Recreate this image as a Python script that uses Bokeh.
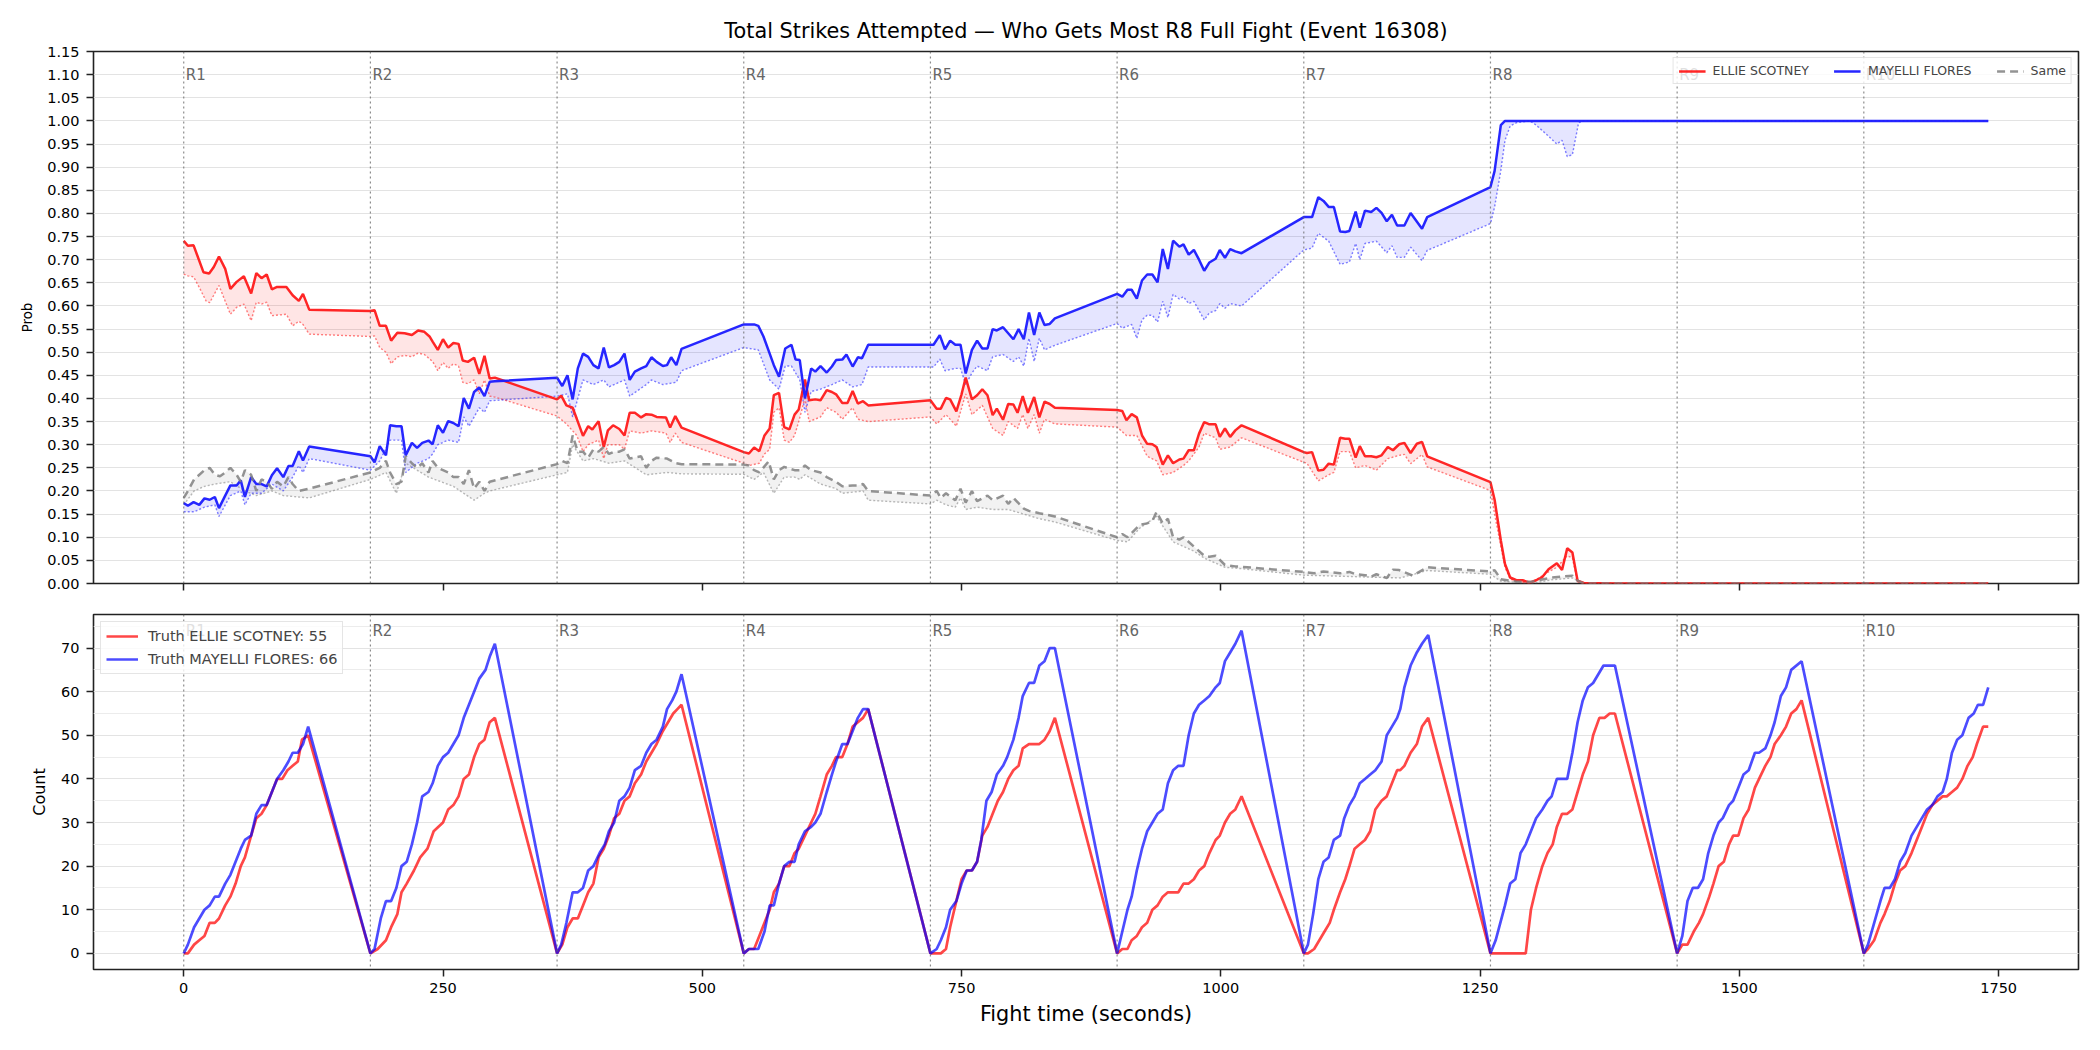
from bokeh.plotting import figure
from bokeh.layouts import column
from bokeh.models import (Range1d, FixedTicker, SingleIntervalTicker, NumeralTickFormatter,
                          Legend, LegendItem, Span, Title)
from bokeh.core.properties import value
from bokeh.embed import file_html
from bokeh.resources import INLINE

FONT = "DejaVu Sans"

TITLE = "Total Strikes Attempted \u2014 Who Gets Most R8 Full Fight (Event 16308)"
FIGHTER_A = "ELLIE SCOTNEY"
FIGHTER_B = "MAYELLI FLORES"
TRUTH_A = 55
TRUTH_B = 66

round_starts = [0, 180, 360, 540, 720, 900, 1080, 1260, 1440, 1620]
round_labels = ["R1", "R2", "R3", "R4", "R5", "R6", "R7", "R8", "R9", "R10"]
x_ticks = [0, 250, 500, 750, 1000, 1250, 1500, 1750]
prob_ticks = [0.00, 0.05, 0.10, 0.15, 0.20, 0.25, 0.30, 0.35, 0.40, 0.45, 0.50, 0.55,
              0.60, 0.65, 0.70, 0.75, 0.80, 0.85, 0.90, 0.95, 1.00, 1.05, 1.10, 1.15]

# ---------------- probability: ELLIE SCOTNEY ----------------
red_t = [0, 4, 9.5, 19, 24.5, 29, 34, 40, 45, 51, 58, 65, 70, 75, 80, 85, 90, 99, 105, 111, 115, 121,
         180, 184, 189, 195, 200, 206, 213, 220, 226, 232, 237, 240, 245, 250, 255, 260, 265, 269, 274, 280, 285, 290, 295, 300,
         360, 364, 369, 375, 379, 385, 390, 394, 400, 405, 409, 414, 420, 425, 430, 435, 441, 446, 451, 456, 465, 469, 474, 480,
         540, 545, 550, 555, 560, 565, 569, 574, 579, 584, 589, 593, 599, 603, 609, 614, 620, 625, 629, 635, 640, 645, 650, 655, 660,
         720, 726, 730, 735, 739, 745, 750, 754, 760, 765, 770, 775, 780, 784, 790, 795, 800, 804, 809, 814, 820, 825, 830, 835, 840,
         900, 905, 909, 914, 919, 924, 929, 934, 938, 944, 949, 954, 960, 964, 969, 974, 979, 984, 989, 995, 999, 1004, 1009, 1014, 1020,
         1080, 1083, 1088, 1094, 1099, 1104, 1109, 1115, 1120, 1124, 1130, 1134, 1139, 1145, 1150, 1155, 1161, 1166, 1172, 1177, 1183, 1189, 1194, 1199,
         1260, 1264, 1270, 1274, 1279, 1285, 1291, 1298, 1304, 1310, 1316, 1324, 1329, 1334, 1339, 1344, 1350, 1380,
         1440, 1560, 1620, 1740]
red_hi = [0.741, 0.730, 0.731, 0.673, 0.670, 0.684, 0.707, 0.680, 0.637, 0.652, 0.664, 0.627, 0.671, 0.660, 0.668, 0.636, 0.641, 0.641, 0.623, 0.611, 0.626, 0.592,
          0.589, 0.591, 0.557, 0.557, 0.525, 0.542, 0.541, 0.537, 0.547, 0.544, 0.534, 0.523, 0.505, 0.528, 0.510, 0.520, 0.518, 0.482, 0.479, 0.488, 0.453, 0.492, 0.443, 0.445,
          0.398, 0.406, 0.385, 0.380, 0.356, 0.319, 0.340, 0.333, 0.351, 0.295, 0.331, 0.342, 0.334, 0.320, 0.369, 0.369, 0.359, 0.366, 0.365, 0.360, 0.359, 0.337, 0.362, 0.337,
          0.284, 0.281, 0.294, 0.286, 0.320, 0.335, 0.407, 0.412, 0.338, 0.333, 0.365, 0.376, 0.441, 0.396, 0.398, 0.396, 0.418, 0.414, 0.409, 0.390, 0.390, 0.416, 0.389, 0.394, 0.385,
          0.396, 0.378, 0.378, 0.401, 0.398, 0.372, 0.409, 0.445, 0.398, 0.407, 0.420, 0.407, 0.364, 0.378, 0.354, 0.388, 0.387, 0.369, 0.405, 0.369, 0.403, 0.359, 0.393, 0.388, 0.380,
          0.375, 0.373, 0.353, 0.366, 0.359, 0.320, 0.302, 0.301, 0.295, 0.257, 0.277, 0.260, 0.268, 0.270, 0.288, 0.288, 0.324, 0.349, 0.344, 0.344, 0.317, 0.335, 0.317, 0.331, 0.342,
          0.284, 0.282, 0.284, 0.244, 0.246, 0.259, 0.257, 0.315, 0.313, 0.313, 0.272, 0.297, 0.275, 0.275, 0.273, 0.277, 0.295, 0.288, 0.301, 0.304, 0.282, 0.302, 0.306, 0.275,
          0.219, 0.181, 0.093, 0.042, 0.013, 0.007, 0.007, 0.002, 0.007, 0.014, 0.031, 0.044, 0.029, 0.076, 0.067, 0.006, 0.001, 0.0,
          0.0, 0.0, 0.0, 0.0]
red_lo_t = [0, 4, 9.5, 15, 21.5, 25, 34, 45, 51, 58, 65, 70, 75, 80, 85, 99, 105, 111, 115, 121,
            180, 184, 189, 195, 200, 206, 213, 220, 226, 232, 240, 245, 250, 255, 260, 265, 269, 274, 280, 285, 290, 295, 300,
            360, 369, 379, 385, 390, 400, 405, 409, 420, 425, 430, 441, 451, 465, 469, 474, 480,
            540, 545, 555, 560, 565, 569, 574, 579, 584, 589, 593, 599, 603, 614, 620, 629, 635, 645, 650, 660,
            720, 726, 735, 745, 754, 760, 770, 780, 790, 795, 804, 809, 814, 820, 825, 830, 840,
            900, 909, 919, 929, 938, 944, 954, 964, 969, 979, 984, 995, 999, 1009, 1020,
            1080, 1083, 1094, 1104, 1109, 1115, 1124, 1130, 1139, 1150, 1161, 1172, 1177, 1183, 1194, 1199,
            1260, 1264, 1270, 1274, 1279, 1285, 1298, 1316, 1324, 1334, 1339, 1344, 1350, 1740]
red_lo = [0.669, 0.665, 0.663, 0.640, 0.611, 0.607, 0.644, 0.582, 0.597, 0.604, 0.568, 0.608, 0.604, 0.608, 0.579, 0.582, 0.557, 0.567, 0.560, 0.539,
          0.534, 0.535, 0.510, 0.500, 0.475, 0.490, 0.493, 0.490, 0.498, 0.495, 0.480, 0.460, 0.478, 0.465, 0.475, 0.470, 0.435, 0.432, 0.440, 0.410, 0.440, 0.405, 0.403,
          0.362, 0.345, 0.320, 0.285, 0.300, 0.310, 0.270, 0.300, 0.300, 0.290, 0.330, 0.325, 0.330, 0.325, 0.305, 0.325, 0.305,
          0.260, 0.255, 0.260, 0.280, 0.290, 0.370, 0.380, 0.310, 0.305, 0.320, 0.350, 0.400, 0.350, 0.360, 0.380, 0.370, 0.355, 0.380, 0.355, 0.350,
          0.360, 0.345, 0.365, 0.340, 0.410, 0.365, 0.385, 0.335, 0.320, 0.350, 0.335, 0.365, 0.335, 0.365, 0.325, 0.355, 0.345,
          0.338, 0.320, 0.320, 0.275, 0.265, 0.235, 0.240, 0.255, 0.265, 0.295, 0.325, 0.315, 0.290, 0.295, 0.315,
          0.262, 0.260, 0.222, 0.235, 0.240, 0.285, 0.285, 0.250, 0.255, 0.245, 0.270, 0.277, 0.279, 0.259, 0.279, 0.252,
          0.201, 0.150, 0.080, 0.035, 0.010, 0.004, 0.000, 0.025, 0.035, 0.060, 0.055, 0.004, 0.000, 0.000]

# ---------------- probability: MAYELLI FLORES ----------------
blue_t = [0, 4, 9.5, 15, 20, 25, 30, 34, 40, 45, 51, 55, 59, 65, 70, 75, 80, 85, 90, 96, 101, 105, 111, 115, 121,
          180, 184, 189, 195, 199, 205, 210, 214, 220, 225, 230, 236, 240, 245, 250, 255, 260, 265, 270, 275, 280, 285, 290, 295, 300,
          360, 365, 370, 375, 380, 385, 390, 395, 400, 405, 410, 415, 420, 425, 430, 435, 441, 446, 451, 456, 462, 466, 470, 475, 480,
          540, 550, 554, 559, 565, 569, 574, 580, 586, 590, 594, 599, 605, 609, 614, 620, 625, 629, 635, 639, 645, 650, 654, 660,
          720, 723, 729, 734, 739, 744, 749, 754, 760, 765, 770, 775, 780, 784, 790, 795, 800, 805, 810, 815, 820, 825, 830, 835, 840,
          900, 905, 910, 914, 919, 924, 929, 934, 939, 944, 949, 954, 960, 964, 969, 974, 979, 984, 989, 995, 999, 1004, 1009, 1014, 1020,
          1080, 1088, 1094, 1099, 1104, 1109, 1115, 1120, 1124, 1130, 1134, 1139, 1145, 1150, 1155, 1160, 1165, 1170, 1177, 1183, 1194, 1199,
          1260, 1264, 1270, 1274, 1380, 1440, 1560, 1620, 1740]
blue_hi = [0.174, 0.168, 0.176, 0.170, 0.184, 0.181, 0.187, 0.163, 0.190, 0.212, 0.212, 0.223, 0.187, 0.230, 0.215, 0.215, 0.210, 0.234, 0.249, 0.230, 0.254, 0.254, 0.286, 0.266, 0.296,
           0.275, 0.262, 0.297, 0.277, 0.342, 0.340, 0.340, 0.277, 0.304, 0.293, 0.304, 0.309, 0.301, 0.342, 0.326, 0.351, 0.347, 0.340, 0.401, 0.378, 0.414, 0.424, 0.405, 0.436, 0.437,
           0.445, 0.427, 0.450, 0.398, 0.465, 0.497, 0.490, 0.472, 0.465, 0.510, 0.467, 0.472, 0.479, 0.497, 0.440, 0.458, 0.465, 0.470, 0.489, 0.479, 0.470, 0.472, 0.489, 0.472, 0.507,
           0.560, 0.560, 0.557, 0.534, 0.497, 0.472, 0.447, 0.508, 0.516, 0.484, 0.483, 0.400, 0.465, 0.458, 0.470, 0.456, 0.469, 0.483, 0.484, 0.495, 0.469, 0.489, 0.487, 0.516,
           0.516, 0.516, 0.537, 0.506, 0.525, 0.516, 0.516, 0.454, 0.505, 0.525, 0.508, 0.508, 0.550, 0.547, 0.554, 0.541, 0.528, 0.550, 0.528, 0.586, 0.537, 0.586, 0.559, 0.561, 0.573,
           0.626, 0.620, 0.635, 0.635, 0.616, 0.655, 0.668, 0.668, 0.651, 0.723, 0.680, 0.741, 0.728, 0.733, 0.711, 0.721, 0.700, 0.676, 0.694, 0.702, 0.721, 0.704, 0.723, 0.718, 0.714,
           0.792, 0.792, 0.835, 0.827, 0.814, 0.814, 0.761, 0.760, 0.762, 0.804, 0.769, 0.806, 0.803, 0.812, 0.801, 0.783, 0.797, 0.774, 0.774, 0.801, 0.767, 0.792,
           0.857, 0.892, 0.991, 1.000, 1.000, 1.000, 1.000, 1.000, 1.000]
blue_lo_t = [0, 10, 20, 30, 34, 45, 55, 59, 65, 75, 85, 96, 105, 111, 115, 121,
             180, 189, 199, 210, 214, 225, 236, 240, 245, 255, 265, 270, 275, 285, 290, 295,
             360, 370, 375, 385, 395, 405, 410, 425, 430, 446, 451, 462, 475, 480,
             540, 554, 565, 574, 580, 586, 594, 599, 605, 614, 625, 635, 645, 654, 660,
             723, 729, 734, 744, 749, 754, 760, 765, 775, 780, 790, 800, 805, 810, 815, 820, 825, 830, 840,
             900, 905, 914, 919, 924, 929, 934, 939, 944, 949, 954, 960, 964, 969, 974, 979, 984, 989, 995, 999, 1004, 1009, 1020,
             1080, 1088, 1094, 1104, 1115, 1124, 1130, 1134, 1139, 1150, 1160, 1165, 1170, 1177, 1183, 1194, 1199,
             1260, 1264, 1270, 1274, 1279, 1285, 1298, 1304, 1315, 1324, 1329, 1334, 1339, 1345, 1350, 1740]
blue_lo = [0.155, 0.155, 0.165, 0.170, 0.145, 0.190, 0.200, 0.170, 0.195, 0.195, 0.215, 0.200, 0.230, 0.255, 0.240, 0.270,
           0.245, 0.265, 0.310, 0.310, 0.240, 0.260, 0.270, 0.280, 0.300, 0.310, 0.305, 0.360, 0.340, 0.380, 0.370, 0.395,
           0.405, 0.410, 0.360, 0.440, 0.430, 0.440, 0.425, 0.440, 0.405, 0.430, 0.440, 0.430, 0.435, 0.460,
           0.510, 0.505, 0.440, 0.420, 0.470, 0.470, 0.440, 0.370, 0.415, 0.420, 0.430, 0.440, 0.425, 0.430, 0.468,
           0.468, 0.485, 0.460, 0.465, 0.465, 0.430, 0.455, 0.470, 0.460, 0.490, 0.495, 0.480, 0.490, 0.470, 0.530, 0.480, 0.530, 0.505, 0.515,
           0.562, 0.552, 0.560, 0.530, 0.570, 0.580, 0.580, 0.565, 0.610, 0.575, 0.625, 0.615, 0.620, 0.605, 0.610, 0.590, 0.570, 0.585, 0.590, 0.605, 0.595, 0.605, 0.600,
           0.721, 0.725, 0.757, 0.740, 0.690, 0.695, 0.735, 0.700, 0.735, 0.740, 0.715, 0.730, 0.705, 0.705, 0.727, 0.698, 0.720,
           0.778, 0.814, 0.893, 0.958, 0.989, 0.996, 1.000, 0.991, 0.969, 0.950, 0.958, 0.923, 0.927, 0.996, 1.000, 1.000]

# ---------------- probability: Same ----------------
same_t = [0, 4, 10, 20, 25, 30, 35, 40, 45, 51, 55, 59, 65, 70, 75, 80, 85, 90, 96, 101, 105, 111, 121,
          180, 189, 195, 199, 205, 210, 214, 220, 225, 230, 236, 240, 245, 250, 255, 260, 265, 270, 275, 280, 285, 290, 295,
          360, 365, 370, 375, 380, 385, 390, 395, 400, 405, 410, 415, 420, 425, 430, 441, 446, 451, 456, 466, 475, 480,
          540, 545, 550, 555, 564, 569, 574, 579, 589, 594, 599, 605, 614, 620, 629, 635, 645, 650, 655, 660,
          720, 726, 730, 735, 744, 749, 754, 760, 765, 775, 780, 790, 795, 800, 810, 815, 825, 840,
          900, 905, 910, 922, 929, 934, 938, 944, 949, 954, 960, 964, 974, 984, 989, 995, 1004, 1014, 1020,
          1080, 1090, 1099, 1104, 1115, 1124, 1130, 1139, 1145, 1150, 1160, 1166, 1172, 1185, 1199,
          1260, 1264, 1270, 1285, 1300, 1319, 1339, 1344, 1350, 1740]
same_hi = [0.185, 0.200, 0.225, 0.245, 0.250, 0.235, 0.232, 0.240, 0.250, 0.235, 0.220, 0.245, 0.235, 0.200, 0.225, 0.220, 0.205, 0.220, 0.210, 0.230, 0.215, 0.200, 0.205,
           0.240, 0.250, 0.265, 0.240, 0.215, 0.220, 0.275, 0.260, 0.250, 0.260, 0.240, 0.265, 0.250, 0.245, 0.240, 0.230, 0.230, 0.215, 0.245, 0.205, 0.220, 0.200, 0.220,
           0.258, 0.265, 0.260, 0.320, 0.285, 0.285, 0.272, 0.290, 0.285, 0.295, 0.280, 0.285, 0.285, 0.290, 0.270, 0.275, 0.250, 0.265, 0.272, 0.270, 0.260, 0.258,
           0.257, 0.255, 0.245, 0.240, 0.264, 0.225, 0.245, 0.252, 0.245, 0.245, 0.255, 0.245, 0.240, 0.230, 0.220, 0.210, 0.212, 0.212, 0.215, 0.200,
           0.190, 0.200, 0.185, 0.195, 0.180, 0.205, 0.175, 0.200, 0.178, 0.190, 0.180, 0.190, 0.172, 0.185, 0.162, 0.157, 0.152, 0.145,
           0.100, 0.107, 0.100, 0.127, 0.130, 0.135, 0.155, 0.130, 0.140, 0.100, 0.095, 0.100, 0.080, 0.060, 0.058, 0.060, 0.040, 0.037, 0.036,
           0.025, 0.022, 0.026, 0.025, 0.022, 0.025, 0.020, 0.018, 0.015, 0.020, 0.012, 0.030, 0.029, 0.017, 0.035,
           0.026, 0.029, 0.009, 0.004, 0.004, 0.013, 0.017, 0.006, 0.000, 0.000]
same_lo_t = [0, 10, 20, 30, 45, 59, 70, 85, 96, 121,
             180, 195, 205, 214, 236, 260, 280, 290, 295,
             360, 370, 375, 385, 395, 410, 425, 446, 466, 480,
             540, 550, 559, 569, 579, 589, 594, 599, 614, 629, 635, 655, 660,
             720, 726, 735, 744, 749, 754, 765, 780, 795, 810, 825, 840,
             900, 910, 922, 938, 954, 974, 984, 1004, 1020,
             1080, 1173, 1199, 1260, 1270, 1300, 1319, 1339, 1350, 1740]
same_lo = [0.170, 0.200, 0.210, 0.215, 0.220, 0.200, 0.190, 0.200, 0.190, 0.185,
           0.225, 0.240, 0.195, 0.260, 0.230, 0.210, 0.180, 0.195, 0.200,
           0.235, 0.240, 0.300, 0.265, 0.270, 0.260, 0.265, 0.235, 0.240, 0.237,
           0.236, 0.225, 0.240, 0.195, 0.230, 0.230, 0.225, 0.235, 0.215, 0.205, 0.195, 0.200, 0.180,
           0.172, 0.180, 0.170, 0.165, 0.185, 0.160, 0.165, 0.160, 0.160, 0.150, 0.140, 0.133,
           0.093, 0.090, 0.120, 0.145, 0.090, 0.070, 0.055, 0.035, 0.032,
           0.018, 0.012, 0.028, 0.020, 0.005, 0.000, 0.008, 0.012, 0.000, 0.000]

# ---------------- cumulative counts ----------------
cnt_a_t = [0, 4, 10, 15, 20, 25, 30, 34, 40, 45, 50, 55, 59, 65, 70, 75, 80, 85, 90, 95, 100, 105, 110, 114, 120,
           180, 187, 195, 200, 206, 210, 215, 222, 228, 235, 241, 250, 255, 260, 265, 270, 275, 280, 285, 290, 295, 300,
           360, 365, 370, 375, 380, 385, 390, 395, 400, 405, 410, 415, 420, 425, 430, 435, 441, 446, 451, 456, 462, 467, 472, 476, 480,
           540, 545, 550, 555, 560, 565, 569, 574, 579, 584, 589, 593, 599, 605, 609, 614, 620, 625, 629, 635, 640, 645, 650, 655, 660,
           720, 730, 735, 739, 745, 750, 755, 760, 765, 770, 775, 780, 785, 790, 795, 800, 805, 809, 815, 825, 830, 835, 840,
           900, 905, 910, 914, 919, 924, 929, 934, 939, 944, 949, 959, 964, 969, 974, 979, 984, 989, 995, 999, 1004, 1009, 1014, 1020,
           1080, 1084, 1090, 1095, 1100, 1105, 1109, 1115, 1120, 1124, 1129, 1134, 1139, 1144, 1149, 1155, 1160, 1165, 1170, 1173, 1177, 1183, 1189, 1194, 1200,
           1260, 1294, 1299, 1304, 1310, 1315, 1320, 1324, 1329, 1334, 1339, 1344, 1349, 1354, 1359, 1365, 1370, 1375, 1380,
           1440, 1445, 1450, 1456, 1461, 1465, 1471, 1475, 1480, 1485, 1490, 1494, 1499, 1504, 1509, 1515, 1519, 1525, 1530, 1534, 1540, 1545, 1550, 1555, 1560,
           1620, 1624, 1630, 1636, 1640, 1645, 1650, 1655, 1660, 1666, 1671, 1676, 1681, 1686, 1691, 1696, 1700, 1705, 1710, 1715, 1720, 1725, 1729, 1735, 1740]
cnt_a = [0, 0, 2, 3, 4, 7, 7, 8, 11, 13, 16, 20, 22, 27, 31, 32, 34, 37, 40, 40, 42, 43, 44, 49, 50,
         0, 1, 3, 6, 9, 14, 16, 19, 22, 24, 28, 30, 33, 34, 36, 40, 41, 45, 48, 49, 53, 54,
         0, 2, 6, 8, 8, 11, 14, 16, 22, 24, 27, 31, 32, 35, 36, 39, 41, 44, 46, 48, 51, 53, 55, 56, 57,
         0, 1, 1, 4, 7, 10, 14, 16, 20, 20, 23, 24, 27, 30, 32, 36, 41, 43, 45, 45, 48, 52, 53, 54, 56,
         0, 0, 1, 6, 12, 17, 19, 19, 21, 27, 29, 32, 35, 37, 40, 42, 43, 47, 48, 48, 49, 51, 54,
         0, 1, 1, 3, 4, 6, 7, 10, 11, 13, 14, 14, 16, 16, 17, 19, 20, 23, 26, 27, 30, 32, 33, 36,
         0, 0, 1, 3, 5, 7, 10, 14, 17, 20, 24, 25, 26, 28, 33, 35, 36, 39, 42, 42, 43, 46, 48, 52, 54,
         0, 0, 10, 15, 20, 23, 25, 29, 32, 32, 33, 37, 41, 44, 50, 54, 54, 55, 55,
         0, 2, 2, 5, 7, 9, 13, 16, 20, 21, 25, 27, 27, 31, 33, 38, 40, 43, 45, 48, 50, 52, 55, 56, 58,
         0, 1, 3, 7, 9, 12, 16, 19, 20, 23, 26, 29, 32, 34, 35, 36, 36, 37, 38, 40, 43, 45, 48, 52, 52]
cnt_b_t = [0, 4, 10, 15, 20, 25, 30, 34, 40, 45, 50, 55, 59, 65, 70, 75, 80, 85, 90, 96, 101, 105, 110, 115, 120,
           180, 184, 190, 195, 200, 205, 210, 215, 220, 225, 230, 236, 240, 245, 250, 255, 260, 265, 270, 275, 280, 285, 291, 295, 300,
           360, 364, 369, 375, 380, 385, 390, 395, 401, 406, 410, 415, 420, 425, 430, 435, 441, 446, 451, 456, 462, 466, 471, 475, 480,
           540, 545, 554, 560, 565, 569, 574, 579, 584, 589, 593, 599, 605, 609, 614, 620, 625, 629, 635, 640, 645, 650, 655, 660,
           720, 726, 730, 735, 739, 745, 750, 755, 760, 765, 769, 774, 779, 784, 790, 794, 800, 805, 809, 815, 820, 825, 830, 835, 840,
           900, 905, 910, 914, 919, 924, 929, 934, 939, 944, 949, 954, 959, 964, 969, 974, 979, 984, 989, 995, 999, 1004, 1009, 1014, 1020,
           1080, 1084, 1089, 1094, 1099, 1104, 1109, 1115, 1119, 1124, 1129, 1134, 1139, 1144, 1149, 1155, 1160, 1165, 1170, 1173, 1177, 1183, 1189, 1194, 1200,
           1260, 1265, 1274, 1279, 1284, 1289, 1294, 1299, 1304, 1310, 1315, 1319, 1324, 1334, 1339, 1344, 1349, 1354, 1359, 1364, 1369, 1380,
           1440, 1445, 1450, 1455, 1460, 1465, 1470, 1475, 1480, 1484, 1490, 1494, 1499, 1504, 1509, 1515, 1519, 1525, 1530, 1534, 1540, 1545, 1550, 1560,
           1620, 1624, 1630, 1636, 1640, 1645, 1650, 1655, 1660, 1666, 1671, 1676, 1681, 1686, 1691, 1696, 1700, 1705, 1710, 1715, 1721, 1726, 1730, 1735, 1740]
cnt_b = [0, 2, 6, 8, 10, 11, 13, 13, 16, 18, 21, 24, 26, 27, 32, 34, 34, 37, 40, 42, 44, 46, 46, 48, 52,
         0, 1, 8, 12, 12, 15, 20, 21, 25, 30, 36, 37, 39, 43, 45, 46, 48, 50, 54, 57, 60, 63, 65, 68, 71,
         0, 2, 7, 14, 14, 15, 19, 20, 23, 25, 28, 30, 35, 36, 38, 42, 43, 46, 48, 49, 52, 56, 58, 60, 64,
         0, 1, 1, 5, 11, 11, 16, 20, 21, 21, 25, 28, 29, 30, 32, 37, 41, 44, 48, 48, 51, 54, 56, 56,
         0, 1, 3, 6, 10, 12, 16, 19, 19, 21, 26, 35, 37, 41, 43, 45, 49, 54, 59, 62, 62, 66, 67, 70, 70,
         0, 5, 10, 13, 19, 24, 28, 30, 32, 33, 39, 42, 43, 43, 50, 55, 57, 58, 59, 61, 62, 67, 69, 71, 74,
         0, 2, 9, 17, 21, 22, 26, 27, 31, 34, 36, 39, 40, 41, 42, 44, 50, 52, 54, 56, 61, 66, 69, 71, 73,
         0, 3, 11, 16, 17, 23, 25, 28, 31, 33, 35, 36, 40, 40, 46, 53, 58, 61, 62, 64, 66, 66,
         0, 4, 12, 15, 15, 17, 23, 27, 30, 31, 34, 35, 38, 41, 42, 46, 46, 47, 50, 53, 59, 61, 65, 67,
         0, 2, 7, 12, 15, 15, 17, 21, 23, 27, 29, 31, 33, 34, 36, 37, 40, 46, 49, 50, 54, 55, 57, 57, 61]

# ---------------- styling helpers ----------------
X_RANGE = (-87, 1827)


def style_common(p):
    p.outline_line_color = "#222222"
    p.outline_line_width = 1.6
    p.outline_line_alpha = 1.0
    p.background_fill_color = "white"
    p.border_fill_color = "white"
    p.xgrid.grid_line_color = None
    p.ygrid.grid_line_color = "#e3e3e3"
    p.ygrid.grid_line_width = 1.2
    for ax in (p.xaxis[0], p.yaxis[0]):
        ax.axis_line_color = None
        ax.major_tick_line_color = "#222222"
        ax.major_tick_line_width = 1.5
        ax.major_tick_out = 7
        ax.major_tick_in = 0
        ax.minor_tick_line_color = None
        ax.major_label_text_font = FONT
        ax.major_label_text_font_size = "14.5px"
        ax.major_label_text_color = "#000000"
        ax.axis_label_text_font = FONT
        ax.axis_label_text_font_style = "normal"
        ax.axis_label_text_color = "#000000"
        ax.major_label_standoff = 7
    p.xaxis.ticker = FixedTicker(ticks=x_ticks)
    for s in round_starts:
        p.add_layout(Span(location=s, dimension="height", line_color="#666666",
                          line_alpha=0.75, line_width=1.2, line_dash="2 3"))


# ---------------- top figure: probabilities ----------------
p1 = figure(width=2100, height=600, output_backend="svg", toolbar_location=None,
            x_range=Range1d(*X_RANGE), y_range=Range1d(0, 1.15),
            min_border_left=93, min_border_right=22, min_border_top=0, min_border_bottom=17)
style_common(p1)
p1.add_layout(Title(text=TITLE, align="center", vertical_align="bottom", text_font=FONT,
                    text_font_size="20.8px", text_font_style="normal", text_color="#000000",
                    standoff=17), "above")
p1.add_layout(Title(text=" ", text_font=FONT, text_font_size="5px", standoff=0), "above")
p1.yaxis.ticker = FixedTicker(ticks=prob_ticks)
p1.yaxis.formatter = NumeralTickFormatter(format="0.00")
p1.yaxis.axis_label = "Prob"
p1.yaxis.axis_label_text_font_size = "13.3px"
p1.yaxis.axis_label_standoff = 9
p1.xaxis.major_label_text_font_size = "1px"
p1.xaxis.major_label_text_alpha = 0
p1.xaxis.major_label_standoff = 0

series = [
    (red_t, red_hi, red_lo_t, red_lo, "#ff1a1a", "red", "solid"),
    (blue_t, blue_hi, blue_lo_t, blue_lo, "#1a1aff", "blue", "solid"),
    (same_t, same_hi, same_lo_t, same_lo, "#808080", "gray", "8 5"),
]
main_renderers = []
for t_hi, v_hi, t_lo, v_lo, col, fill, dash in series:
    p1.patch(x=list(t_hi) + list(t_lo)[::-1], y=list(v_hi) + list(v_lo)[::-1],
             fill_color=fill, fill_alpha=0.1, line_color=None)
for t_hi, v_hi, t_lo, v_lo, col, fill, dash in series:
    p1.line(t_lo, v_lo, line_color=col, line_alpha=0.55, line_width=1.4, line_dash="2 2")
for t_hi, v_hi, t_lo, v_lo, col, fill, dash in series:
    r = p1.line(t_hi, v_hi, line_color=col, line_alpha=0.95 if dash == "solid" else 0.85,
                line_width=2.5, line_dash=dash)
    main_renderers.append(r)

p1.text(x=round_starts, y=[1.10] * len(round_starts), text=round_labels,
        x_offset=2, text_baseline="middle", text_align="left",
        text_font=value(FONT), text_font_size="15px", text_color="#666666")

leg1 = Legend(items=[LegendItem(label=FIGHTER_A, renderers=[main_renderers[0]]),
                     LegendItem(label=FIGHTER_B, renderers=[main_renderers[1]]),
                     LegendItem(label="Same", renderers=[main_renderers[2]])],
              location="top_right", orientation="horizontal")
leg1.label_text_font = FONT
leg1.label_text_font_size = "12.5px"
leg1.glyph_width = 27
leg1.glyph_height = 12
leg1.label_height = 12
leg1.label_standoff = 7
leg1.spacing = 25
leg1.padding = 5
leg1.margin = 6
leg1.background_fill_alpha = 0.8
leg1.border_line_color = "#cccccc"
leg1.border_line_width = 1.3
p1.add_layout(leg1)

# ---------------- bottom figure: counts ----------------
p2 = figure(width=2100, height=450, output_backend="svg", toolbar_location=None,
            x_range=Range1d(*X_RANGE), y_range=Range1d(-3.7, 77.7),
            min_border_left=93, min_border_right=22, min_border_top=14, min_border_bottom=81)
style_common(p2)
p2.yaxis.ticker = SingleIntervalTicker(interval=10, num_minor_ticks=2)
p2.ygrid.minor_grid_line_color = "#ececec"
p2.ygrid.minor_grid_line_width = 1.2
p2.yaxis.axis_label = "Count"
p2.yaxis.axis_label_text_font_size = "16px"
p2.yaxis.axis_label_standoff = 9
p2.xaxis.axis_label = "Fight time (seconds)"
p2.xaxis.axis_label_text_font_size = "20.8px"
p2.xaxis.axis_label_standoff = 6
p2.xaxis.major_label_standoff = 6

ra = p2.line(cnt_a_t, cnt_a, line_color="red", line_alpha=0.72, line_width=2.7)
rb = p2.line(cnt_b_t, cnt_b, line_color="blue", line_alpha=0.7, line_width=2.7)
p2.text(x=round_starts, y=[74] * len(round_starts), text=round_labels,
        x_offset=2, text_baseline="middle", text_align="left",
        text_font=value(FONT), text_font_size="15px", text_color="#666666")

leg2 = Legend(items=[LegendItem(label="Truth %s: %d" % (FIGHTER_A, TRUTH_A), renderers=[ra]),
                     LegendItem(label="Truth %s: %d" % (FIGHTER_B, TRUTH_B), renderers=[rb])],
              location="top_left")
leg2.label_text_font = FONT
leg2.label_text_font_size = "14.5px"
leg2.glyph_width = 32
leg2.glyph_height = 18
leg2.label_height = 18
leg2.label_standoff = 10
leg2.spacing = 5
leg2.padding = 5
leg2.margin = 7
leg2.background_fill_alpha = 0.8
leg2.border_line_color = "#cccccc"
leg2.border_line_width = 1.3
p2.add_layout(leg2)

layout = column(p1, p2, spacing=0)
open("out.html", "w").write(file_html(layout, INLINE))
